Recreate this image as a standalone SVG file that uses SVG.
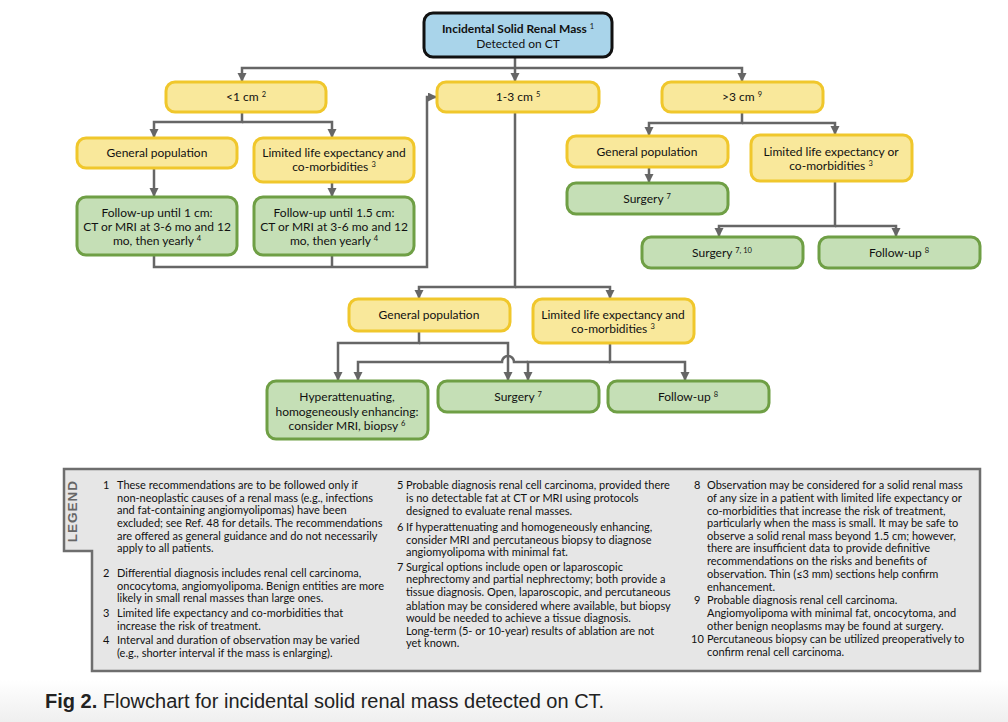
<svg xmlns="http://www.w3.org/2000/svg" width="1008" height="722" viewBox="0 0 1008 722">
<defs>
<marker id="ah" markerUnits="userSpaceOnUse" markerWidth="10" markerHeight="10" refX="8" refY="4.5" orient="auto">
<path d="M0,0 L9,4.5 L0,9 z" fill="#666"/>
</marker>
<linearGradient id="capbg" x1="0" y1="0" x2="0" y2="1">
<stop offset="0" stop-color="#ffffff"/>
<stop offset="1" stop-color="#efefef"/>
</linearGradient>
<style>
.y{fill:#f9e89b;stroke:#f0c72c;stroke-width:3}
.g{fill:#c5dfb6;stroke:#6f9f45;stroke-width:3}
.b{fill:#a9d4ea;stroke:#111;stroke-width:3}
.t{font-family:Lato,"Liberation Sans",sans-serif;font-size:12px;fill:#111;text-anchor:middle}
.sup{font-size:7.5px}
.c{fill:none;stroke:#666;stroke-width:2.5}
.ca{fill:none;stroke:#666;stroke-width:2.5;marker-end:url(#ah)}
.l{font-family:Lato,"Liberation Sans",sans-serif;font-size:11px;fill:#111}
.cap{font-family:"Liberation Sans",Arial,sans-serif;font-size:20px;fill:#222}
</style>
</defs>
<rect width="1008" height="722" fill="#ffffff"/>
<rect x="0" y="680" width="1008" height="42" fill="url(#capbg)"/>

<g id="connectors">
<path class="ca" d="M515,57 V81"/>
<path class="ca" d="M515,68 H242 V81"/>
<path class="ca" d="M515,68 H742 V81"/>
<path class="ca" d="M242,112 V122 H154 V137"/>
<path class="ca" d="M242,122 H332 V137"/>
<path class="ca" d="M154,168 V196"/>
<path class="ca" d="M332,182 V196"/>
<path class="ca" d="M154,255 V267 H427 V97 H436"/>
<path class="c" d="M332,255 V267"/>
<path class="ca" d="M515,112 V287 H419 V298"/>
<path class="ca" d="M515,287 H610 V298"/>
<path class="ca" d="M419,331 V343 H338 V380"/>
<path class="ca" d="M419,343 H508 V380"/>
<path class="ca" d="M610,343 V362 H685 V380"/>
<path class="ca" d="M610,362 H528 V380"/>
<path class="ca" d="M528,362 H514 A6,6 0 0 0 502,362 H358 V380"/>
<path class="ca" d="M742,112 V123 H649 V135"/>
<path class="ca" d="M742,123 H835 V134"/>
<path class="ca" d="M649,167 V182"/>
<path class="ca" d="M835,181 V226 H719 V236"/>
<path class="ca" d="M835,226 H896 V236"/>
</g>

<g id="n-top">
<rect class="b" x="424" y="13" width="188" height="44" rx="9"/>
<text class="t" x="518" y="33" font-weight="bold">Incidental Solid Renal Mass <tspan class="sup" dy="-4" font-weight="normal">1</tspan></text>
<text class="t" x="518" y="48">Detected on CT</text>
</g>
<g id="n-lt1">
<rect class="y" x="166" y="82" width="160" height="30" rx="9"/>
<text class="t" x="246" y="101">&lt;1 cm <tspan class="sup" dy="-4">2</tspan></text>
</g>
<g id="n-13">
<rect class="y" x="437" y="82" width="162" height="30" rx="9"/>
<text class="t" x="518" y="101">1-3 cm <tspan class="sup" dy="-4">5</tspan></text>
</g>
<g id="n-gt3">
<rect class="y" x="662" y="82" width="161" height="30" rx="9"/>
<text class="t" x="742" y="101">&gt;3 cm <tspan class="sup" dy="-4">9</tspan></text>
</g>
<g id="n-lt-gen">
<rect class="y" x="77" y="138" width="160" height="30" rx="9"/>
<text class="t" x="157" y="157">General population</text>
</g>
<g id="n-lt-lim">
<rect class="y" x="254" y="138" width="160" height="44" rx="9"/>
<text class="t" x="334" y="157">Limited life expectancy and</text>
<text class="t" x="334" y="171">co-morbidities <tspan class="sup" dy="-4">3</tspan></text>
</g>
<g id="n-lt-fu1">
<rect class="g" x="77" y="197" width="160" height="58" rx="9"/>
<text class="t" x="157" y="217">Follow-up until 1 cm:</text>
<text class="t" x="157" y="231">CT or MRI at 3-6 mo and 12</text>
<text class="t" x="157" y="245">mo, then yearly <tspan class="sup" dy="-4">4</tspan></text>
</g>
<g id="n-lt-fu2">
<rect class="g" x="254" y="197" width="160" height="58" rx="9"/>
<text class="t" x="334" y="217">Follow-up until 1.5 cm:</text>
<text class="t" x="334" y="231">CT or MRI at 3-6 mo and 12</text>
<text class="t" x="334" y="245">mo, then yearly <tspan class="sup" dy="-4">4</tspan></text>
</g>
<g id="n-gt-gen">
<rect class="y" x="567" y="136" width="161" height="31" rx="9"/>
<text class="t" x="647" y="155.5">General population</text>
</g>
<g id="n-gt-surg">
<rect class="g" x="567" y="183" width="161" height="31" rx="9"/>
<text class="t" x="647" y="203">Surgery <tspan class="sup" dy="-4">7</tspan></text>
</g>
<g id="n-gt-lim">
<rect class="y" x="751" y="135" width="161" height="46" rx="9"/>
<text class="t" x="831" y="156">Limited life expectancy or</text>
<text class="t" x="831" y="170">co-morbidities <tspan class="sup" dy="-4">3</tspan></text>
</g>
<g id="n-gt-surg2">
<rect class="g" x="642" y="237" width="161" height="31" rx="9"/>
<text class="t" x="722" y="257">Surgery <tspan class="sup" dy="-4">7, 10</tspan></text>
</g>
<g id="n-gt-fu">
<rect class="g" x="819" y="237" width="161" height="31" rx="9"/>
<text class="t" x="899" y="257">Follow-up <tspan class="sup" dy="-4">8</tspan></text>
</g>
<g id="n-m-gen">
<rect class="y" x="349" y="299" width="161" height="32" rx="9"/>
<text class="t" x="429" y="319">General population</text>
</g>
<g id="n-m-lim">
<rect class="y" x="533" y="299" width="161" height="44" rx="9"/>
<text class="t" x="613" y="319">Limited life expectancy and</text>
<text class="t" x="613" y="333">co-morbidities <tspan class="sup" dy="-4">3</tspan></text>
</g>
<g id="n-m-hyper">
<rect class="g" x="267" y="381" width="161" height="58" rx="9"/>
<text class="t" x="347" y="401">Hyperattenuating,</text>
<text class="t" x="347" y="416">homogeneously enhancing:</text>
<text class="t" x="347" y="430">consider MRI, biopsy <tspan class="sup" dy="-4">6</tspan></text>
</g>
<g id="n-m-surg">
<rect class="g" x="438" y="381" width="161" height="31" rx="9"/>
<text class="t" x="518" y="401">Surgery <tspan class="sup" dy="-4">7</tspan></text>
</g>
<g id="n-m-fu">
<rect class="g" x="608" y="381" width="161" height="31" rx="9"/>
<text class="t" x="688" y="401">Follow-up <tspan class="sup" dy="-4">8</tspan></text>
</g>

<g id="legend">
<path d="M64,469 H980 V671 H92 V551 H64 Z" fill="#e6e6e6" stroke="#6e6e6e" stroke-width="2.5"/>
<text x="77" y="511" transform="rotate(-90 77 511)" text-anchor="middle" font-family="'Liberation Sans',sans-serif" font-weight="bold" font-size="13.5" letter-spacing="1" fill="#666">LEGEND</text>
<g class="l">
<text x="103" y="489">1</text>
<text x="117" y="489">These recommendations are to be followed only if</text>
<text x="117" y="502">non-neoplastic causes of a renal mass (e.g., infections</text>
<text x="117" y="514">and fat-containing angiomyolipomas) have been</text>
<text x="117" y="527">excluded; see Ref. 48 for details. The recommendations</text>
<text x="117" y="540">are offered as general guidance and do not necessarily</text>
<text x="117" y="552">apply to all patients.</text>
<text x="103" y="577">2</text>
<text x="117" y="577">Differential diagnosis includes renal cell carcinoma,</text>
<text x="117" y="590">oncocytoma, angiomyolipoma. Benign entities are more</text>
<text x="117" y="602">likely in small renal masses than large ones.</text>
<text x="103" y="617">3</text>
<text x="117" y="617">Limited life expectancy and co-morbidities that</text>
<text x="117" y="630">increase the risk of treatment.</text>
<text x="103" y="644">4</text>
<text x="117" y="644">Interval and duration of observation may be varied</text>
<text x="117" y="657">(e.g., shorter interval if the mass is enlarging).</text>

<text x="397" y="489">5</text>
<text x="406" y="489">Probable diagnosis renal cell carcinoma, provided there</text>
<text x="406" y="502">is no detectable fat at CT or MRI using protocols</text>
<text x="406" y="515">designed to evaluate renal masses.</text>
<text x="397" y="531">6</text>
<text x="406" y="531">If hyperattenuating and homogeneously enhancing,</text>
<text x="406" y="544">consider MRI and percutaneous biopsy to diagnose</text>
<text x="406" y="556">angiomyolipoma with minimal fat.</text>
<text x="397" y="571">7</text>
<text x="406" y="571">Surgical options include open or laparoscopic</text>
<text x="406" y="583">nephrectomy and partial nephrectomy; both provide a</text>
<text x="406" y="596">tissue diagnosis. Open, laparoscopic, and percutaneous</text>
<text x="406" y="610">ablation may be considered where available, but biopsy</text>
<text x="406" y="622">would be needed to achieve a tissue diagnosis.</text>
<text x="406" y="635">Long-term (5- or 10-year) results of ablation are not</text>
<text x="406" y="647">yet known.</text>

<text x="694" y="489">8</text>
<text x="707" y="489">Observation may be considered for a solid renal mass</text>
<text x="707" y="502">of any size in a patient with limited life expectancy or</text>
<text x="707" y="515">co-morbidities that increase the risk of treatment,</text>
<text x="707" y="527">particularly when the mass is small. It may be safe to</text>
<text x="707" y="540">observe a solid renal mass beyond 1.5 cm; however,</text>
<text x="707" y="552">there are insufficient data to provide definitive</text>
<text x="707" y="565">recommendations on the risks and benefits of</text>
<text x="707" y="578">observation. Thin (≤3 mm) sections help confirm</text>
<text x="707" y="591">enhancement.</text>
<text x="694" y="604">9</text>
<text x="707" y="604">Probable diagnosis renal cell carcinoma.</text>
<text x="707" y="617">Angiomyolipoma with minimal fat, oncocytoma, and</text>
<text x="707" y="630">other benign neoplasms may be found at surgery.</text>
<text x="691" y="643">10</text>
<text x="707" y="643">Percutaneous biopsy can be utilized preoperatively to</text>
<text x="707" y="656">confirm renal cell carcinoma.</text>
</g>
</g>

<text class="cap" x="45" y="708"><tspan font-weight="bold">Fig 2.</tspan> Flowchart for incidental solid renal mass detected on CT.</text>
</svg>
